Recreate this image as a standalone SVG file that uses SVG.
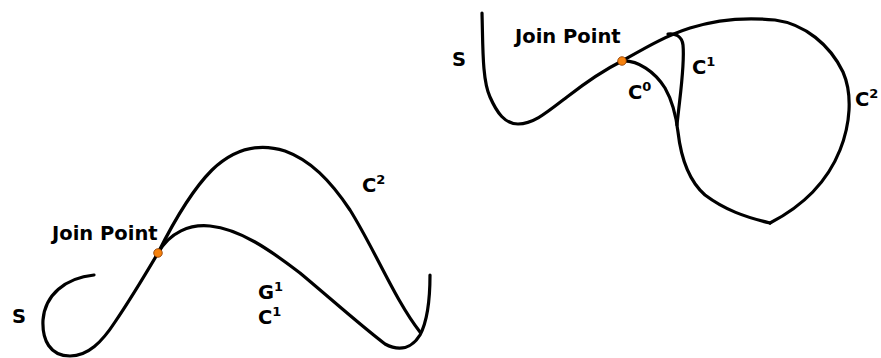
<svg xmlns="http://www.w3.org/2000/svg" width="881" height="358" viewBox="0 0 881 358">
<style>
.c{fill:none;stroke:#000;stroke-width:3.2;stroke-linecap:round;stroke-linejoin:round}
.t{font-family:"DejaVu Sans","Verdana",sans-serif;font-weight:bold;font-size:19.5px;fill:#000}
.s{font-size:13px}
.d{fill:#f5820f;stroke:#8a3a00;stroke-width:0.8}
</style>
<rect width="881" height="358" fill="#fff"/>
<g id="connectors">
<path class="c" d="M94,275 C65,278 45,295 43,320 C42,340 50,356 70,356 C88,356 102,342 115,322 C130,300 145,275 158,253 C172,225 190,192 212,170 C235,148 260,143 285,151 C310,160 330,180 350,210 C375,250 395,300 420,332"/>
<path class="c" d="M158,253 C170,232 190,224 210,226 C240,229 270,250 300,273 C330,298 360,325 385,344 C400,352 412,348 420,335 C428,320 430,300 430,275"/>
<path class="c" d="M482,13 C483,45 482,80 490,97 C497,113 505,124 518,124 C533,124 545,114 567,97 C585,83 600,72 622,61 C645,48 665,36 690,28 C715,20 745,17 775,20 C805,24 830,45 843,72 C853,95 850,125 840,150 C828,180 805,205 770,223"/>
<path class="c" d="M622,61 C638,60 655,72 665,88 C673,102 676,115 678,132 C681,158 688,180 705,195 C725,210 745,217 770,223"/>
<path class="c" d="M668,34 C675,33 682,36 683,45 C685,65 680,95 677,125"/>
</g>
<g id="left-join"><circle class="d" cx="158" cy="253" r="4.3"/><text class="t" x="52" y="240">Join Point</text></g>
<g id="left-S"><text class="t" x="12" y="323">S</text></g>
<g id="left-C2"><text class="t" x="362" y="192">C<tspan class="s" dy="-8">2</tspan></text></g>
<g id="left-G1C1"><text class="t" x="258" y="299">G<tspan class="s" dy="-8">1</tspan></text><text class="t" x="258" y="324">C<tspan class="s" dy="-8">1</tspan></text></g>
<g id="right-join"><circle class="d" cx="622" cy="61" r="4.3"/><text class="t" x="515" y="43">Join Point</text></g>
<g id="right-S"><text class="t" x="452" y="66">S</text></g>
<g id="right-C0"><text class="t" x="628" y="99">C<tspan class="s" dy="-8">0</tspan></text></g>
<g id="right-C1"><text class="t" x="692" y="74">C<tspan class="s" dy="-8">1</tspan></text></g>
<g id="right-C2"><text class="t" x="855" y="106">C<tspan class="s" dy="-8">2</tspan></text></g>
</svg>
